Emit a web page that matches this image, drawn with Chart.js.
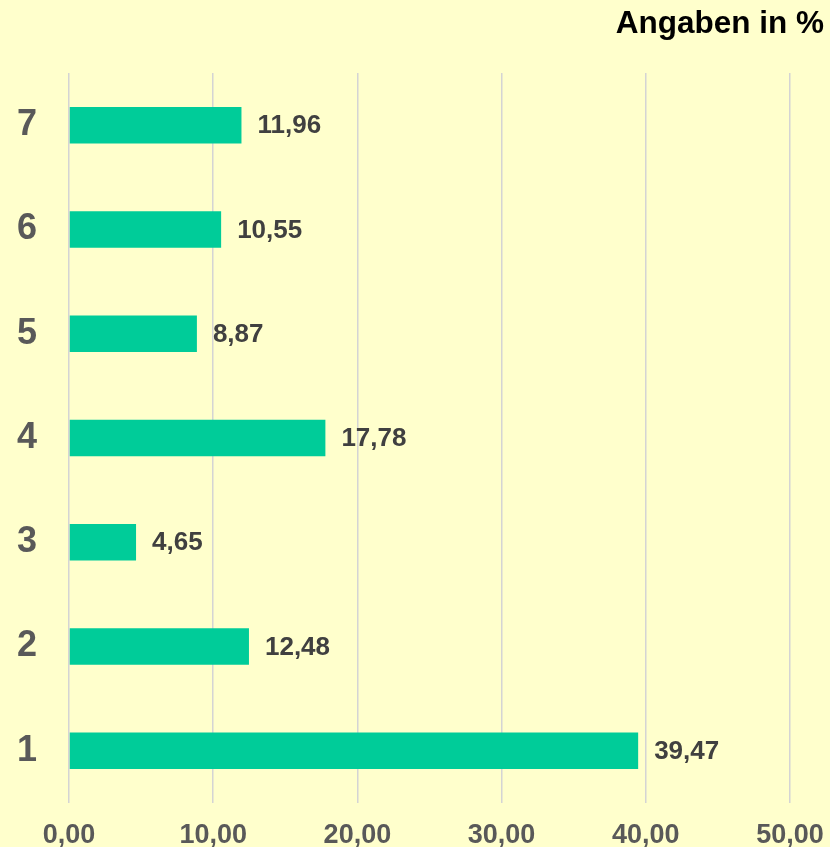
<!DOCTYPE html>
<html>
<head>
<meta charset="utf-8">
<script src="https://cdn.jsdelivr.net/npm/chart.js@4"></script>
<style>
  html, body { margin: 0; padding: 0; background: #FFFFCC; overflow: hidden; }
  #c { position: absolute; left: 0; top: 0; }
</style>
</head>
<body>
<canvas id="c" width="830" height="847"></canvas>
<script>
const categories = ['1', '2', '3', '4', '5', '6', '7'];
const values = [39.47, 12.48, 4.65, 17.78, 8.87, 10.55, 11.96];
const xTicks = [0, 10, 20, 30, 40, 50];
const titleText = 'Angaben in %';

const fmt = v => v.toFixed(2).replace('.', ',');
const FONT = '"Liberation Sans", Arial, sans-serif';

const bgPlugin = {
  id: 'bg',
  beforeDraw(chart) {
    const ctx = chart.ctx;
    ctx.save();
    ctx.fillStyle = '#FFFFCC';
    ctx.fillRect(0, 0, chart.width, chart.height);
    ctx.restore();
  }
};

const titlePlugin = {
  id: 'cornerTitle',
  afterDraw(chart) {
    const ctx = chart.ctx;
    ctx.save();
    ctx.font = 'bold 31.5px ' + FONT;
    ctx.fillStyle = '#000000';
    ctx.textAlign = 'right';
    ctx.textBaseline = 'alphabetic';
    ctx.fillText(titleText, 824, 33);
    ctx.restore();
  }
};

const labelPlugin = {
  id: 'valueLabels',
  afterDatasetsDraw(chart) {
    const ctx = chart.ctx;
    const meta = chart.getDatasetMeta(0);
    ctx.save();
    ctx.font = 'bold 26px ' + FONT;
    ctx.fillStyle = '#404040';
    ctx.textAlign = 'left';
    ctx.textBaseline = 'middle';
    meta.data.forEach((bar, i) => {
      ctx.fillText(fmt(values[i]), bar.x + 16, bar.y + 1);
    });
    ctx.restore();
  }
};

new Chart(document.getElementById('c'), {
  type: 'bar',
  data: {
    labels: categories,
    datasets: [{
      data: values,
      backgroundColor: '#00CC99',
      borderWidth: 0,
      barPercentage: 0.35,
      categoryPercentage: 1.0
    }]
  },
  options: {
    indexAxis: 'y',
    responsive: false,
    animation: false,
    layout: { padding: { top: 73, left: 0, right: 40, bottom: 0 } },
    plugins: {
      legend: { display: false },
      title: { display: false },
      tooltip: { enabled: false }
    },
    scales: {
      x: {
        min: 0,
        max: 50,
        afterBuildTicks(scale) { scale.ticks = xTicks.map(v => ({ value: v })); },
        afterFit(scale) {
          scale.height = 44;
          scale.paddingLeft = 0;
          scale.paddingRight = 0;
        },
        grid: { color: '#D4D4D4', lineWidth: 1.5, drawTicks: false },
        border: { display: false },
        ticks: {
          padding: 16,
          color: '#595959',
          font: { family: FONT, size: 27, weight: 'bold' },
          callback: v => fmt(v)
        }
      },
      y: {
        reverse: true,
        afterFit(scale) {
          scale.width = 69;
          scale.paddingTop = 0;
          scale.paddingBottom = 0;
        },
        grid: { display: false },
        border: { display: false },
        ticks: {
          padding: 24,
          color: '#595959',
          font: { family: FONT, size: 36, weight: 'bold' }
        }
      }
    }
  },
  plugins: [bgPlugin, labelPlugin, titlePlugin]
});
</script>
</body>
</html>
